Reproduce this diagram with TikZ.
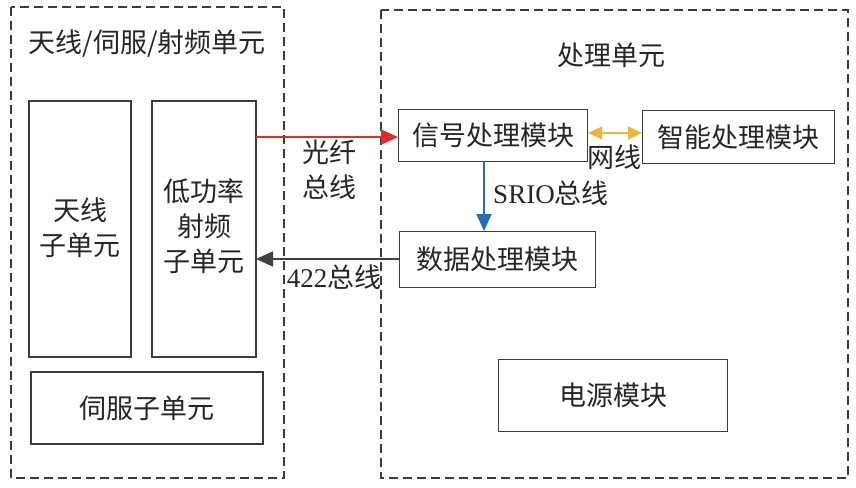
\documentclass[tikz,border=0pt]{standalone}
\usepackage{fontspec}
\setmainfont{Liberation Serif}
\newfontfamily\cjk{Noto Sans CJK SC}
\usetikzlibrary{arrows.meta}
\definecolor{lc}{RGB}{60,60,60}
\definecolor{redc}{RGB}{230,40,40}
\definecolor{orc}{RGB}{240,180,60}
\definecolor{bluc}{RGB}{35,110,180}
\definecolor{blkc}{RGB}{65,65,65}
\tikzset{
  unit/.style={draw=lc, line width=1.2pt, dash pattern=on 9pt off 5pt},
  blk/.style={draw=lc, line width=1.1pt, inner sep=0pt},
  txt/.style={font=\fontsize{27}{35}\selectfont\cjk, text=black!85, inner sep=0pt, align=center},
  lbl/.style={font=\fontsize{27}{35}\selectfont, text=black!85, inner sep=0pt, align=center},
  tip/.style={-{Triangle[length=17pt,width=15pt]}},
  tips/.style={{Triangle[length=14pt,width=13pt]}-{Triangle[length=14pt,width=13pt]}}
}
\begin{document}
\begin{tikzpicture}[x=1pt,y=-1pt]
\useasboundingbox (0,0) rectangle (856,487);
\fill[white] (0,0) rectangle (856,487);
% dashed units
\draw[unit] (11,7) rectangle (284,478);
\draw[unit] (381,10) rectangle (848,478);
\node[txt] (t1) at (147,44) {天线/伺服/射频单元};
\node[txt] (t2) at (611,55) {处理单元};
% left blocks
\draw[blk] (29,101) rectangle (131,357);
\node[txt] (ant) at (80,228) {天线\\子单元};
\draw[blk] (152,101) rectangle (256,357);
\coordinate (rfT) at (256,137);
\coordinate (rfB) at (256,259);
\node[txt] (rf) at (204,226) {低功率\\射频\\子单元};
\draw[blk] (31,372) rectangle (263,444);
\node[txt] (servo) at (147,408) {伺服子单元};
% right blocks
\node[blk, minimum width=189pt, minimum height=52pt, anchor=north west] (sig) at (398,109) {};
\node[txt] at (sig.center) {信号处理模块};
\node[blk, minimum width=192pt, minimum height=53pt, anchor=north west] (smart) at (642,110) {};
\node[txt] at (smart.center) {智能处理模块};
\node[blk, minimum width=196pt, minimum height=56pt, anchor=north west] (data) at (399,231) {};
\node[txt] at (data.center) {数据处理模块};
\node[blk, minimum width=229pt, minimum height=72pt, anchor=north west] (pwr) at (498,359) {};
\node[txt] at (pwr.center) {电源模块};
% connectors
\draw[redc, line width=1.4pt, tip] (rfT) -- (sig.west |- rfT);
\node[txt] (l1) at (329,170) {光纤\\总线};
\draw[orc, line width=1.8pt, tips] (sig.east |- 0,133) -- (smart.west |- 0,133);
\node[txt] (l2) at (614,157) {网线};
\draw[bluc, line width=1.8pt, tip] (484,161) -- (484,231);
\node[lbl] (l3) at (551,193) {SRIO{\cjk 总线}};
\draw[blkc, line width=1.8pt, tip] (data.west |- rfB) -- (rfB);
\node[lbl] (l4) at (334,277) {422{\cjk 总线}};
\end{tikzpicture}
\end{document}
